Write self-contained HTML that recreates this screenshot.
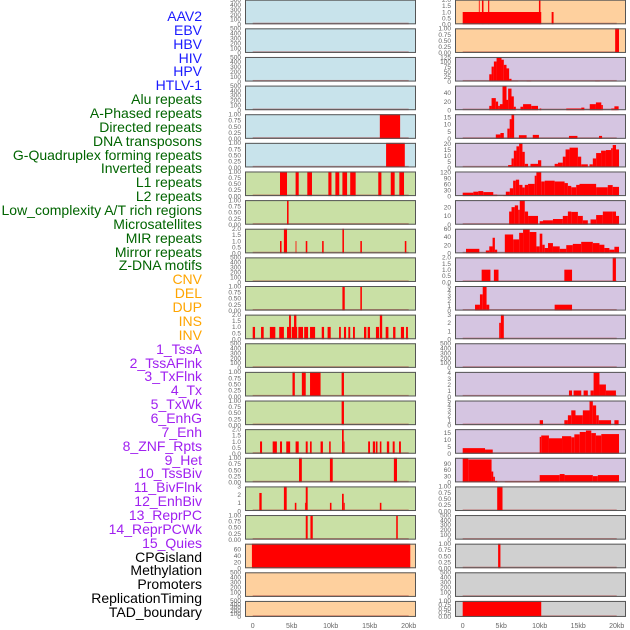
<!DOCTYPE html>
<html><head><meta charset="utf-8"><style>
html,body{margin:0;padding:0;background:#fff;}
#c{position:relative;width:630px;height:630px;overflow:hidden;font-family:"Liberation Sans",sans-serif;}
.lab{position:absolute;right:428px;font-size:14px;line-height:14px;white-space:nowrap;}
</style></head><body>
<div id="c">
<svg id="s" width="630" height="630" style="position:absolute;left:0;top:0"></svg>
</div>
<script>
const trackNames = ["AAV2","EBV","HBV","HIV","HPV","HTLV-1","Alu repeats","A-Phased repeats","Directed repeats","DNA transposons","G-Quadruplex forming repeats","Inverted repeats","L1 repeats","L2 repeats","Low_complexity A/T rich regions","Microsatellites","MIR repeats","Mirror repeats","Z-DNA motifs","CNV","DEL","DUP","INS","INV","1_TssA","2_TssAFlnk","3_TxFlnk","4_Tx","5_TxWk","6_EnhG","7_Enh","8_ZNF_Rpts","9_Het","10_TssBiv","11_BivFlnk","12_EnhBiv","13_ReprPC","14_ReprPCWk","15_Quies","CPGisland","Methylation","Promoters","ReplicationTiming","TAD_boundary"];
const trackColors = ["#1a1aff","#1a1aff","#1a1aff","#1a1aff","#1a1aff","#1a1aff","#006400","#006400","#006400","#006400","#006400","#006400","#006400","#006400","#006400","#006400","#006400","#006400","#006400","#ffa500","#ffa500","#ffa500","#ffa500","#ffa500","#a020f0","#a020f0","#a020f0","#a020f0","#a020f0","#a020f0","#a020f0","#a020f0","#a020f0","#a020f0","#a020f0","#a020f0","#a020f0","#a020f0","#a020f0","#000","#000","#000","#000","#000"];
const xTickLabels = ["0","5kb","10kb","15kb","20kb"];
const xTickValues = [0,5,10,15,20];
const E=["0","100","200","300","400","500"], U=["0.00","0.25","0.50","0.75","1.00"], T2=["0.0","0.5","1.0","1.5","2.0"];
const leftBg = ["#c8e3eb","#c8e3eb","#c8e3eb","#c8e3eb","#c8e3eb","#c8e3eb","#c9e0a5","#c9e0a5","#c9e0a5","#c9e0a5","#c9e0a5","#c9e0a5","#c9e0a5","#c9e0a5","#c9e0a5","#c9e0a5","#c9e0a5","#c9e0a5","#c9e0a5","#fed09e","#fed09e","#fed09e"];
const rightBg = ["#fed09e","#fed09e","#d5c5e1","#d5c5e1","#d5c5e1","#d5c5e1","#d5c5e1","#d5c5e1","#d5c5e1","#d5c5e1","#d5c5e1","#d5c5e1","#d5c5e1","#d5c5e1","#d5c5e1","#d5c5e1","#d5c5e1","#d0d0d0","#d0d0d0","#d0d0d0","#d0d0d0","#d0d0d0"];
const leftYMax = [500,500,500,500,1,1,1,1,2,500,1,2,500,1,1,2,1,3,1,78,500,500];
const leftTicks = [E,E,E,E,U,U,U,U,T2,E,U,T2,E,U,U,T2,U,["0","1","2","3"],U,["0","20","40","60"],E,E];
const leftBars = [
 [],[],[],[],
 [[16.3,18.9,1]],
 [[17.1,19.5,1]],
 [[3.5,4.4,1],[5.5,5.9,1],[7.0,7.6,1],[9.7,10.1,1],[10.6,11.1,1],[11.5,12.1,1],[12.5,13.2,1],[16.1,16.5,1],[17.7,18.2,1],[18.8,19.4,1]],
 [[4.4,4.6,1]],
 [[3.5,3.7,1],[4.0,4.4,2],[5.5,5.6,1],[6.8,7.0,1],[8.9,9.1,1],[11.5,11.7,2],[13.8,14.0,1],[19.5,19.7,1]],
 [],
 [[11.5,11.8,1],[13.8,14.0,1]],
 [[0,0.3,1],[1.07,1.41,1],[2.2,2.9,1],[3.4,4.0,1],[4.4,4.9,1],[4.66,4.9,2],[5.0,5.7,1],[5.3,5.6,2],[5.85,6.45,1],[6.6,7.1,1],[7.35,8.0,1],[8.85,9.15,1],[9.6,10.0,1],[11.07,11.3,1],[11.7,11.97,1],[12.26,12.5,1],[12.86,13.1,1],[14.27,14.57,1],[14.74,15.04,1],[15.8,16.2,1],[16.3,16.6,2],[17.05,17.4,1],[18.0,18.3,1],[19.0,19.4,1],[19.66,19.9,1]],
 [],
 [[5.1,5.4,1],[6.3,6.8,1],[7.35,8.7,1],[11.4,11.7,1]],
 [[11.4,11.7,1]],
 [[0.94,1.2,1],[2.56,3.1,1],[3.5,3.76,1],[4.3,4.8,1],[5.5,5.9,1],[6.8,7.05,1],[7.35,7.56,1],[8.7,9.0,1],[9.8,10.0,1],[11.45,11.67,2],[11.67,11.75,1],[14.8,15.04,1],[15.4,15.7,1],[15.8,16.0,1],[16.3,16.5,1],[17.2,17.5,1],[17.95,18.2,1],[18.76,19.0,1]],
 [[5.94,6.3,1],[9.9,10.26,1],[18.1,18.5,1]],
 [[0.85,1.15,2.2],[4.0,4.36,3],[5.4,5.6,1],[6.7,6.8,1],[6.8,7.05,3],[9.9,10.1,1],[11.45,11.67,2.1],[11.67,11.8,1],[16.3,16.5,1]],
 [[6.8,7.05,1],[7.4,7.7,1],[18.4,18.6,1]],
 [[-0.1,20.2,78]],
 [],[]
];
const rightYMax = [2,1,125,57,16.9,20.5,123,28,60,2,5,3,500,4.1,5,17.5,118,1,500,1,500,1];
const rightTicks = [T2,U,["0","25","50","75","100","125"],["0","20","40"],["0","5","10","15"],["0","5","10","15","20"],["0","30","60","90","120"],["0","10","20"],["0","20","40","60"],T2,["0","1","2","3","4","5"],["0","1","2","3"],E,["0","1","2","3","4"],["0","1","2","3","4","5"],["0","5","10","15"],["0","30","60","90"],U,E,U,E,U];
const rightBars = [
 [[0,10.2,1],[2.1,2.2,2],[2.5,2.7,2],[3.3,3.45,2],[9.9,10.1,2],[11.55,11.8,1]],
 [[19.8,20.3,1]],
 [[3.45,3.75,37],[3.75,4.05,76],[4.05,4.4,102],[4.4,5.04,123],[5.04,5.34,111],[5.34,5.69,85],[5.69,6.03,67],[6.03,6.34,14],[6.34,7.2,5],[8.3,8.9,5],[17.2,17.8,5]],
 [[3.45,3.75,10],[3.75,4.3,28],[4.3,4.6,20],[4.6,4.83,10],[4.83,5.17,14],[5.17,5.69,56],[5.69,5.9,24],[5.9,6.34,50],[6.34,6.64,32],[6.64,6.9,8],[7.5,7.84,8],[7.84,8.9,14],[8.9,9.78,10],[10.0,10.2,4],[13.45,15.4,4],[15.4,15.8,6],[16.5,17.3,14],[17.3,18.0,18],[18.0,18.2,12],[19.3,19.7,4],[19.7,20.25,9]],
 [[4.3,4.9,3],[4.9,5.34,4],[5.8,6.1,7],[6.1,6.34,13.5],[6.34,6.68,17],[7.3,8.3,2.5],[9.1,9.9,2.7],[13.8,14.9,2],[17.7,18.1,2]],
 [[5.9,6.34,2],[6.34,6.64,7.5],[6.64,6.98,14],[6.98,7.33,17.6],[7.33,7.76,20],[7.76,8.06,13],[8.06,8.49,3],[8.8,9.78,3],[9.78,10.2,6],[11.94,12.37,3],[12.37,13.0,4],[13.0,13.36,9],[13.36,13.88,15],[13.88,14.96,16.5],[14.96,15.39,9],[15.39,16.25,2.6],[16.47,16.9,2.6],[16.9,17.33,7.5],[17.33,17.97,12],[17.97,18.6,14],[18.6,19.27,14.5],[19.27,19.48,16],[19.48,19.91,18.7],[19.91,20.3,15]],
 [[0,1.38,17],[1.38,2.03,22],[2.03,2.67,25],[2.67,3.97,20],[3.97,4.48,7],[5.26,5.6,5],[5.6,6.12,22],[6.12,6.55,39],[6.55,6.9,77],[6.9,7.33,82],[7.33,7.76,56],[7.76,8.06,43],[8.06,8.49,56],[8.49,9.35,61],[9.35,9.57,102],[9.57,10.2,121],[10.2,10.65,73],[10.65,11.94,77],[11.94,13.23,73],[13.23,13.66,65],[13.66,14.1,51],[14.1,14.74,44],[14.74,15.17,56],[15.17,17.33,61],[17.33,18.84,44],[18.84,19.48,55],[19.48,20.3,46]],
 [[6.03,6.34,15],[6.34,6.77,20],[6.77,7.2,22],[7.2,7.41,17],[7.41,8.06,28],[8.06,8.49,15],[8.49,9.78,10],[10.0,10.43,4],[10.43,11.72,5],[11.72,13.0,6.5],[13.0,13.66,10],[13.66,14.1,15],[14.1,14.96,14.6],[14.96,15.6,10],[15.6,16.25,5],[16.6,17.33,6],[17.33,18.2,11],[18.2,19.48,15],[19.48,19.91,15],[19.91,20.3,10]],
 [[0.43,2.16,11],[3.0,3.45,7],[3.45,3.88,17],[3.88,4.18,38],[4.18,4.48,9],[5.47,6.55,46],[6.55,7.33,34],[7.33,7.84,50],[7.84,8.7,58],[8.7,9.57,52],[9.57,10.0,17],[10.0,10.34,48],[10.34,10.65,21],[10.65,11.08,13],[11.08,11.72,25],[11.72,12.6,17],[12.6,13.45,11],[13.45,14.3,20],[14.3,15.39,23],[15.39,16.9,28],[16.9,17.76,25],[17.76,18.4,21],[18.4,19.05,13],[19.05,19.7,9],[19.7,20.3,16]],
 [[2.46,3.6,1],[4.05,4.65,1],[13.2,14.2,1],[19.48,19.9,2]],
 [[1.6,2.24,1.2],[2.24,2.6,3.3],[2.6,3.1,5],[3.1,3.45,1.2],[11.94,14.2,1.2]],
 [[4.74,4.96,2],[4.96,5.34,3]],
 [],
 [[13.8,14.2,1],[14.4,15.4,1],[15.7,16.25,1],[16.6,17.0,1],[17.0,17.76,4],[17.76,18.6,2],[18.6,19.9,1]],
 [[10.0,10.43,1],[13.2,13.66,1],[13.66,14.1,2],[14.1,14.65,3],[14.65,15.6,2],[15.6,16.47,3],[16.47,16.9,5],[16.9,17.33,4],[17.33,17.67,2],[17.67,19.27,1],[19.7,20.25,1]],
 [[0,2.9,4],[2.9,3.9,3],[10.0,10.2,12],[10.2,11.2,13],[11.2,12.9,11],[12.9,14.1,12.5],[14.1,14.5,11.7],[14.5,15.2,13.8],[15.2,16.0,15.5],[16.0,16.7,16.5],[16.7,17.3,14.7],[17.3,18.0,13],[18.0,20.3,14]],
 [[0,0.73,115],[0.73,3.75,110],[3.75,3.97,52],[3.97,4.18,27],[4.18,4.48,7],[5.47,10.0,5],[10.0,12.6,35],[12.6,13.23,40],[13.23,16.9,35],[16.9,17.55,30],[17.55,20.3,35]],
 [[4.48,5.17,1]],
 [],
 [[4.6,4.9,1]],
 [],
 [[0,10.2,1]]
];
// layout
const NS="http://www.w3.org/2000/svg";
const svg=document.getElementById('s');
const c=document.getElementById('c');
const cols=[{px0:245,px1:416,x0:252.7,sc:7.8},{px0:455,px1:626,x0:462.7,sc:7.7}];
function rowTop(i){return 28.63*i-0.3;}
function rowH(i){return i===21?16:24.6;}
function xs(col,kb){return cols[col].x0+kb*cols[col].sc;}
function mk(tag,attrs){const e=document.createElementNS(NS,tag);for(const k in attrs)e.setAttribute(k,attrs[k]);svg.appendChild(e);return e;}
function drawCol(col,bgs,ymaxs,ticks,bars){
 for(let i=0;i<22;i++){
  const t=rowTop(i),h=rowH(i),b=t+h,L=cols[col].px0,R=cols[col].px1;
  const ys=v=>b-v/ymaxs[i]*h;
  const bg=mk('rect',{x:L,y:t,width:R-L,height:h,fill:bgs[i]});
  
  
  const base=mk('rect',{x:xs(col,0),y:b-1.6,width:xs(col,20)-xs(col,0),height:1.6,fill:'#b03030',opacity:0.5});
  
  
  bars[i].forEach(d=>{
   const x0=Math.max(L,xs(col,d[0])),x1=Math.min(R,xs(col,d[1]));
   const y=Math.max(t,ys(d[2]));
   const r=mk('rect',{x:x0,y:y,width:Math.max(0.8,x1-x0),height:b-y,fill:'#ff0000'});
   
   
  });
  const fr=mk('rect',{x:L+0.5,y:t+0.5,width:R-L-1,height:h-1,fill:'none',stroke:'#555',"stroke-width":1});
  
  
  ticks[i].forEach(lbl=>{
   const tx=mk('text',{x:L-4,y:ys(parseFloat(lbl))+2.3,'font-size':6.5,fill:'#666','text-anchor':'end','font-family':'Liberation Sans, sans-serif'});
   tx.textContent=lbl;
   
   
  });
 }
 xTickValues.forEach((v,k)=>{
  const tx=mk('text',{x:xs(col,v),y:628,'font-size':7,fill:'#666','text-anchor':'middle','font-family':'Liberation Sans, sans-serif'});
  tx.textContent=xTickLabels[k];
  
  
 });
}
drawCol(0,leftBg,leftYMax,leftTicks,leftBars);
drawCol(1,rightBg,rightYMax,rightTicks,rightBars);
trackNames.forEach((n,k)=>{
 const d=document.createElement('div');
 d.className='lab';
 d.style.top=(20+k*13.86-11)+'px';
 d.style.color=trackColors[k];
 d.textContent=n;
 
 
 c.appendChild(d);
});
</script>
</body></html>
